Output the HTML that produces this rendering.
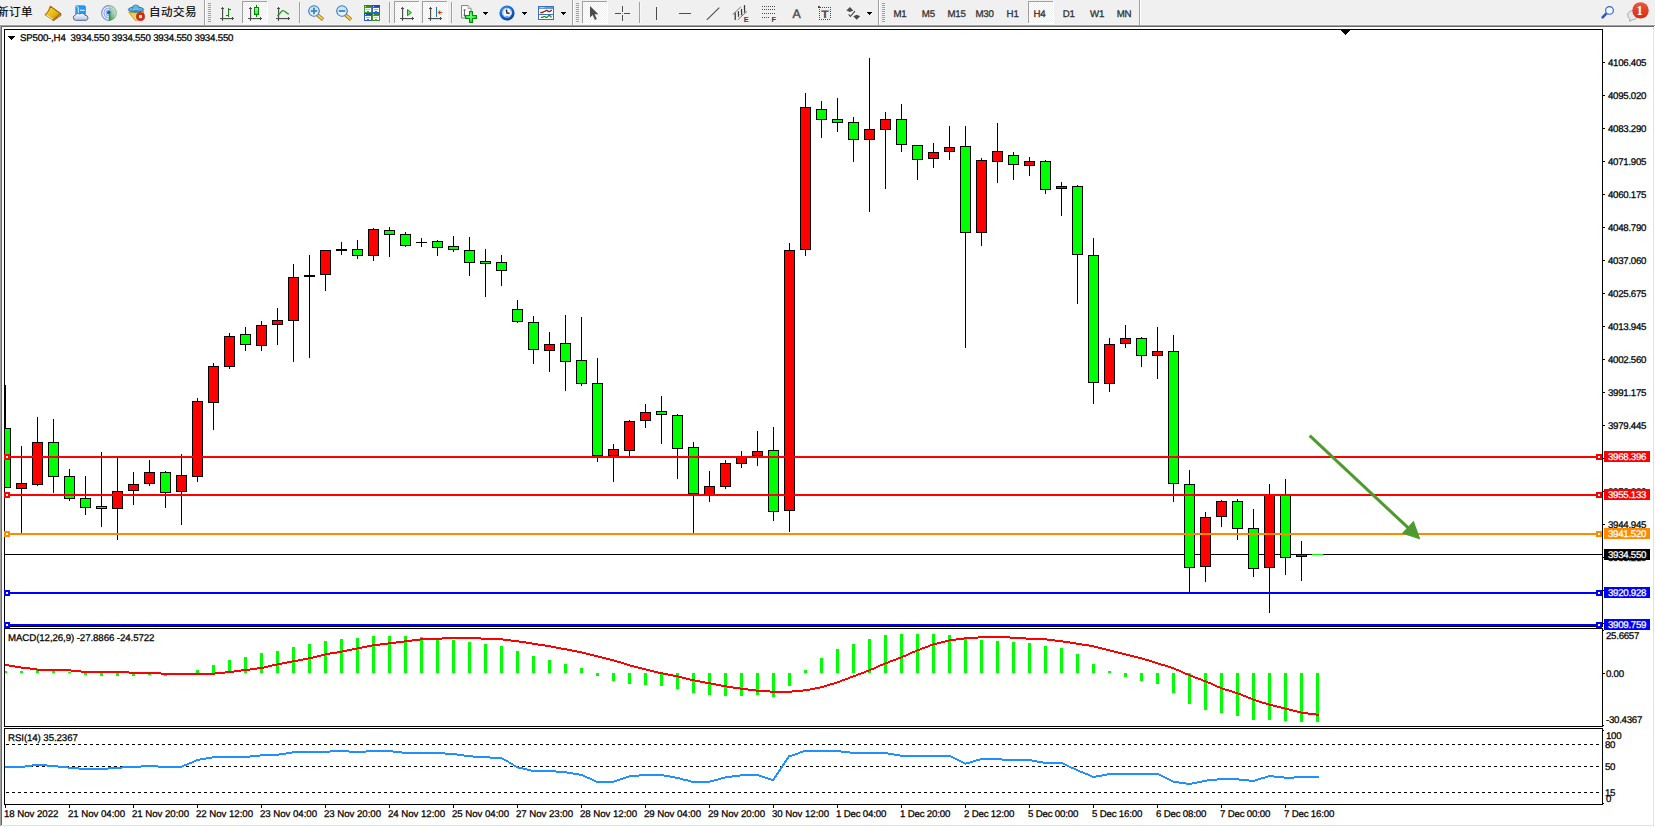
<!DOCTYPE html>
<html><head><meta charset="utf-8"><title>SP500-,H4</title>
<style>
html,body{margin:0;padding:0;background:#fff;}
body{width:1655px;height:827px;overflow:hidden;position:relative;font-family:"Liberation Sans","Noto Sans CJK SC",sans-serif;}
#tb{position:absolute;left:0;top:0;width:1655px;height:25px;background:#f0f0f0;}
#win{position:absolute;left:0;top:25px;width:1655px;height:802px;background:#fff;}
svg{position:absolute;left:0;top:0;}
.t{position:absolute;white-space:pre;font-size:9.7px;line-height:11px;height:11px;color:#000;-webkit-text-stroke:0.25px #000;letter-spacing:-0.12px;text-rendering:geometricPrecision;}
.p{letter-spacing:-0.28px;}
.h{letter-spacing:-0.2px;}
.m{letter-spacing:-0.09px;}
.d{letter-spacing:-0.05px;}
.d2{letter-spacing:-0.19px;}
.pl{left:1608px;}
.pb{position:absolute;left:1604px;width:46px;height:11px;color:#fff;font-size:9.7px;line-height:13px;overflow:hidden;white-space:pre;text-indent:4px;letter-spacing:-0.28px;-webkit-text-stroke:0.25px #fff;text-rendering:geometricPrecision;}
.cn{position:absolute;font-size:11.5px;line-height:14px;color:#000;white-space:pre;letter-spacing:0.5px;-webkit-text-stroke:0.15px #000;}
.tf{position:absolute;top:9px;font-size:9.7px;line-height:11px;color:#333;white-space:pre;-webkit-text-stroke:0.3px #333;letter-spacing:-0.2px;text-rendering:geometricPrecision;}
.ic{position:absolute;font-size:7.4px;line-height:7px;font-weight:bold;color:#3c3c3c;}
.ia{position:absolute;font-size:12.3px;line-height:13px;color:#4d4d4d;-webkit-text-stroke:0.45px #4d4d4d;text-rendering:geometricPrecision;}
.it{position:absolute;font-size:11px;line-height:12px;font-weight:bold;color:#4d4d4d;transform:scaleX(1.18);transform-origin:0 0;text-rendering:geometricPrecision;}
.bd{position:absolute;font-family:"Liberation Serif",serif;font-weight:bold;font-size:13.5px;line-height:14px;color:#fff;text-rendering:geometricPrecision;}
</style></head><body>

<div id="tb"></div><div id="win"></div>
<svg id="chart" width="1655" height="827" viewBox="0 0 1655 827" shape-rendering="crispEdges">
<rect x="0" y="24" width="1655" height="1" fill="#f6f6f6"/>
<rect x="0" y="25" width="1655" height="1" fill="#a0a0a0"/><rect x="0" y="25" width="1" height="801" fill="#a0a0a0"/>
<rect x="1" y="26" width="1654" height="1" fill="#696969"/><rect x="1" y="26" width="1" height="799" fill="#696969"/>
<rect x="1653" y="27" width="1" height="799" fill="#e3e3e3"/><rect x="1" y="825" width="1653" height="1" fill="#e3e3e3"/>
<rect x="1654" y="26" width="1" height="801" fill="#fff"/><rect x="0" y="826" width="1655" height="1" fill="#fff"/>
<path d="M4.5 29.5H1602.5V626.5H4.5Z" fill="none" stroke="#000" stroke-width="1"/>
<path d="M4.5 628.5H1602.5V726.5H4.5Z" fill="none" stroke="#000" stroke-width="1"/>
<path d="M4.5 728.5H1602.5V804.5H4.5Z" fill="none" stroke="#000" stroke-width="1"/>
<rect x="1341" y="30" width="9" height="1" fill="#000"/>
<rect x="1342" y="31" width="7" height="1" fill="#000"/>
<rect x="1343" y="32" width="5" height="1" fill="#000"/>
<rect x="1344" y="33" width="3" height="1" fill="#000"/>
<rect x="1345" y="34" width="1" height="1" fill="#000"/>
<rect x="8" y="36" width="7" height="1" fill="#000"/>
<rect x="9" y="37" width="5" height="1" fill="#000"/>
<rect x="10" y="38" width="3" height="1" fill="#000"/>
<rect x="11" y="39" width="1" height="1" fill="#000"/>
<rect x="1603" y="62" width="2" height="1" fill="#000"/>
<rect x="1603" y="95" width="2" height="1" fill="#000"/>
<rect x="1603" y="128" width="2" height="1" fill="#000"/>
<rect x="1603" y="161" width="2" height="1" fill="#000"/>
<rect x="1603" y="194" width="2" height="1" fill="#000"/>
<rect x="1603" y="227" width="2" height="1" fill="#000"/>
<rect x="1603" y="260" width="2" height="1" fill="#000"/>
<rect x="1603" y="293" width="2" height="1" fill="#000"/>
<rect x="1603" y="326" width="2" height="1" fill="#000"/>
<rect x="1603" y="359" width="2" height="1" fill="#000"/>
<rect x="1603" y="392" width="2" height="1" fill="#000"/>
<rect x="1603" y="425" width="2" height="1" fill="#000"/>
<rect x="1603" y="458" width="2" height="1" fill="#000"/>
<rect x="1603" y="491" width="2" height="1" fill="#000"/>
<rect x="1603" y="524" width="2" height="1" fill="#000"/>
<rect x="1603" y="557" width="2" height="1" fill="#000"/>
<rect x="1603" y="590" width="2" height="1" fill="#000"/>
<rect x="1603" y="623" width="2" height="1" fill="#000"/>
<rect x="1603" y="673" width="2" height="1" fill="#000"/>
<rect x="1603" y="630" width="1" height="1" fill="#000"/>
<rect x="1603" y="725" width="1" height="1" fill="#000"/>
<rect x="1603" y="730" width="1" height="1" fill="#000"/>
<rect x="1603" y="803" width="1" height="1" fill="#000"/>
<rect x="5" y="805" width="1" height="3" fill="#000"/>
<rect x="69" y="805" width="1" height="3" fill="#000"/>
<rect x="133" y="805" width="1" height="3" fill="#000"/>
<rect x="197" y="805" width="1" height="3" fill="#000"/>
<rect x="261" y="805" width="1" height="3" fill="#000"/>
<rect x="325" y="805" width="1" height="3" fill="#000"/>
<rect x="389" y="805" width="1" height="3" fill="#000"/>
<rect x="453" y="805" width="1" height="3" fill="#000"/>
<rect x="517" y="805" width="1" height="3" fill="#000"/>
<rect x="581" y="805" width="1" height="3" fill="#000"/>
<rect x="645" y="805" width="1" height="3" fill="#000"/>
<rect x="709" y="805" width="1" height="3" fill="#000"/>
<rect x="773" y="805" width="1" height="3" fill="#000"/>
<rect x="837" y="805" width="1" height="3" fill="#000"/>
<rect x="901" y="805" width="1" height="3" fill="#000"/>
<rect x="965" y="805" width="1" height="3" fill="#000"/>
<rect x="1029" y="805" width="1" height="3" fill="#000"/>
<rect x="1093" y="805" width="1" height="3" fill="#000"/>
<rect x="1157" y="805" width="1" height="3" fill="#000"/>
<rect x="1221" y="805" width="1" height="3" fill="#000"/>
<rect x="1285" y="805" width="1" height="3" fill="#000"/>
<rect x="5" y="554" width="1597" height="1" fill="#000"/>
<rect x="5" y="385" width="1" height="103" fill="#000"/>
<rect x="5" y="428" width="6" height="60" fill="#000"/>
<rect x="5" y="429" width="5" height="58" fill="#00ff00"/>
<rect x="21" y="446" width="1" height="87" fill="#000"/>
<rect x="16" y="483" width="11" height="6" fill="#000"/>
<rect x="17" y="484" width="9" height="4" fill="#ff0000"/>
<rect x="37" y="417" width="1" height="69" fill="#000"/>
<rect x="32" y="442" width="11" height="43" fill="#000"/>
<rect x="33" y="443" width="9" height="41" fill="#ff0000"/>
<rect x="53" y="419" width="1" height="74" fill="#000"/>
<rect x="48" y="442" width="11" height="35" fill="#000"/>
<rect x="49" y="443" width="9" height="33" fill="#00ff00"/>
<rect x="69" y="469" width="1" height="32" fill="#000"/>
<rect x="64" y="476" width="11" height="23" fill="#000"/>
<rect x="65" y="477" width="9" height="21" fill="#00ff00"/>
<rect x="85" y="476" width="1" height="39" fill="#000"/>
<rect x="80" y="498" width="11" height="10" fill="#000"/>
<rect x="81" y="499" width="9" height="8" fill="#00ff00"/>
<rect x="101" y="452" width="1" height="75" fill="#000"/>
<rect x="96" y="506" width="11" height="3" fill="#000"/>
<rect x="97" y="507" width="9" height="1" fill="#00ff00"/>
<rect x="117" y="457" width="1" height="83" fill="#000"/>
<rect x="112" y="491" width="11" height="18" fill="#000"/>
<rect x="113" y="492" width="9" height="16" fill="#ff0000"/>
<rect x="133" y="472" width="1" height="33" fill="#000"/>
<rect x="128" y="484" width="11" height="7" fill="#000"/>
<rect x="129" y="485" width="9" height="5" fill="#ff0000"/>
<rect x="149" y="460" width="1" height="26" fill="#000"/>
<rect x="144" y="472" width="11" height="12" fill="#000"/>
<rect x="145" y="473" width="9" height="10" fill="#ff0000"/>
<rect x="165" y="471" width="1" height="37" fill="#000"/>
<rect x="160" y="472" width="11" height="21" fill="#000"/>
<rect x="161" y="473" width="9" height="19" fill="#00ff00"/>
<rect x="181" y="454" width="1" height="71" fill="#000"/>
<rect x="176" y="475" width="11" height="17" fill="#000"/>
<rect x="177" y="476" width="9" height="15" fill="#ff0000"/>
<rect x="197" y="398" width="1" height="84" fill="#000"/>
<rect x="192" y="401" width="11" height="76" fill="#000"/>
<rect x="193" y="402" width="9" height="74" fill="#ff0000"/>
<rect x="213" y="363" width="1" height="67" fill="#000"/>
<rect x="208" y="366" width="11" height="37" fill="#000"/>
<rect x="209" y="367" width="9" height="35" fill="#ff0000"/>
<rect x="229" y="333" width="1" height="36" fill="#000"/>
<rect x="224" y="336" width="11" height="31" fill="#000"/>
<rect x="225" y="337" width="9" height="29" fill="#ff0000"/>
<rect x="245" y="327" width="1" height="24" fill="#000"/>
<rect x="240" y="334" width="11" height="11" fill="#000"/>
<rect x="241" y="335" width="9" height="9" fill="#00ff00"/>
<rect x="261" y="321" width="1" height="30" fill="#000"/>
<rect x="256" y="325" width="11" height="21" fill="#000"/>
<rect x="257" y="326" width="9" height="19" fill="#ff0000"/>
<rect x="277" y="308" width="1" height="37" fill="#000"/>
<rect x="272" y="320" width="11" height="5" fill="#000"/>
<rect x="273" y="321" width="9" height="3" fill="#ff0000"/>
<rect x="293" y="264" width="1" height="98" fill="#000"/>
<rect x="288" y="277" width="11" height="44" fill="#000"/>
<rect x="289" y="278" width="9" height="42" fill="#ff0000"/>
<rect x="309" y="255" width="1" height="103" fill="#000"/>
<rect x="304" y="275" width="11" height="2" fill="#000"/>
<rect x="325" y="250" width="1" height="41" fill="#000"/>
<rect x="320" y="250" width="11" height="25" fill="#000"/>
<rect x="321" y="251" width="9" height="23" fill="#ff0000"/>
<rect x="341" y="242" width="1" height="13" fill="#000"/>
<rect x="336" y="249" width="11" height="2" fill="#000"/>
<rect x="357" y="240" width="1" height="19" fill="#000"/>
<rect x="352" y="249" width="11" height="7" fill="#000"/>
<rect x="353" y="250" width="9" height="5" fill="#00ff00"/>
<rect x="373" y="228" width="1" height="33" fill="#000"/>
<rect x="368" y="229" width="11" height="27" fill="#000"/>
<rect x="369" y="230" width="9" height="25" fill="#ff0000"/>
<rect x="389" y="227" width="1" height="30" fill="#000"/>
<rect x="384" y="230" width="11" height="5" fill="#000"/>
<rect x="385" y="231" width="9" height="3" fill="#00ff00"/>
<rect x="405" y="232" width="1" height="15" fill="#000"/>
<rect x="400" y="234" width="11" height="12" fill="#000"/>
<rect x="401" y="235" width="9" height="10" fill="#00ff00"/>
<rect x="421" y="238" width="1" height="9" fill="#000"/>
<rect x="416" y="242" width="11" height="1" fill="#000"/>
<rect x="437" y="240" width="1" height="16" fill="#000"/>
<rect x="432" y="241" width="11" height="7" fill="#000"/>
<rect x="433" y="242" width="9" height="5" fill="#00ff00"/>
<rect x="453" y="236" width="1" height="16" fill="#000"/>
<rect x="448" y="246" width="11" height="4" fill="#000"/>
<rect x="449" y="247" width="9" height="2" fill="#00ff00"/>
<rect x="469" y="237" width="1" height="39" fill="#000"/>
<rect x="464" y="250" width="11" height="13" fill="#000"/>
<rect x="465" y="251" width="9" height="11" fill="#00ff00"/>
<rect x="485" y="249" width="1" height="48" fill="#000"/>
<rect x="480" y="261" width="11" height="3" fill="#000"/>
<rect x="481" y="262" width="9" height="1" fill="#00ff00"/>
<rect x="501" y="255" width="1" height="31" fill="#000"/>
<rect x="496" y="262" width="11" height="9" fill="#000"/>
<rect x="497" y="263" width="9" height="7" fill="#00ff00"/>
<rect x="517" y="300" width="1" height="23" fill="#000"/>
<rect x="512" y="309" width="11" height="13" fill="#000"/>
<rect x="513" y="310" width="9" height="11" fill="#00ff00"/>
<rect x="533" y="316" width="1" height="48" fill="#000"/>
<rect x="528" y="322" width="11" height="28" fill="#000"/>
<rect x="529" y="323" width="9" height="26" fill="#00ff00"/>
<rect x="549" y="332" width="1" height="40" fill="#000"/>
<rect x="544" y="344" width="11" height="7" fill="#000"/>
<rect x="545" y="345" width="9" height="5" fill="#ff0000"/>
<rect x="565" y="315" width="1" height="76" fill="#000"/>
<rect x="560" y="343" width="11" height="19" fill="#000"/>
<rect x="561" y="344" width="9" height="17" fill="#00ff00"/>
<rect x="581" y="317" width="1" height="69" fill="#000"/>
<rect x="576" y="360" width="11" height="24" fill="#000"/>
<rect x="577" y="361" width="9" height="22" fill="#00ff00"/>
<rect x="597" y="358" width="1" height="104" fill="#000"/>
<rect x="592" y="383" width="11" height="73" fill="#000"/>
<rect x="593" y="384" width="9" height="71" fill="#00ff00"/>
<rect x="613" y="444" width="1" height="38" fill="#000"/>
<rect x="608" y="449" width="11" height="7" fill="#000"/>
<rect x="609" y="450" width="9" height="5" fill="#ff0000"/>
<rect x="629" y="420" width="1" height="36" fill="#000"/>
<rect x="624" y="421" width="11" height="30" fill="#000"/>
<rect x="625" y="422" width="9" height="28" fill="#ff0000"/>
<rect x="645" y="404" width="1" height="24" fill="#000"/>
<rect x="640" y="412" width="11" height="9" fill="#000"/>
<rect x="641" y="413" width="9" height="7" fill="#ff0000"/>
<rect x="661" y="396" width="1" height="48" fill="#000"/>
<rect x="656" y="411" width="11" height="4" fill="#000"/>
<rect x="657" y="412" width="9" height="2" fill="#00ff00"/>
<rect x="677" y="414" width="1" height="65" fill="#000"/>
<rect x="672" y="415" width="11" height="34" fill="#000"/>
<rect x="673" y="416" width="9" height="32" fill="#00ff00"/>
<rect x="693" y="442" width="1" height="91" fill="#000"/>
<rect x="688" y="447" width="11" height="47" fill="#000"/>
<rect x="689" y="448" width="9" height="45" fill="#00ff00"/>
<rect x="709" y="471" width="1" height="31" fill="#000"/>
<rect x="704" y="486" width="11" height="9" fill="#000"/>
<rect x="705" y="487" width="9" height="7" fill="#ff0000"/>
<rect x="725" y="460" width="1" height="29" fill="#000"/>
<rect x="720" y="463" width="11" height="24" fill="#000"/>
<rect x="721" y="464" width="9" height="22" fill="#ff0000"/>
<rect x="741" y="451" width="1" height="17" fill="#000"/>
<rect x="736" y="456" width="11" height="8" fill="#000"/>
<rect x="737" y="457" width="9" height="6" fill="#ff0000"/>
<rect x="757" y="431" width="1" height="35" fill="#000"/>
<rect x="752" y="451" width="11" height="5" fill="#000"/>
<rect x="753" y="452" width="9" height="3" fill="#ff0000"/>
<rect x="773" y="427" width="1" height="94" fill="#000"/>
<rect x="768" y="450" width="11" height="62" fill="#000"/>
<rect x="769" y="451" width="9" height="60" fill="#00ff00"/>
<rect x="789" y="243" width="1" height="289" fill="#000"/>
<rect x="784" y="250" width="11" height="261" fill="#000"/>
<rect x="785" y="251" width="9" height="259" fill="#ff0000"/>
<rect x="805" y="93" width="1" height="163" fill="#000"/>
<rect x="800" y="107" width="11" height="143" fill="#000"/>
<rect x="801" y="108" width="9" height="141" fill="#ff0000"/>
<rect x="821" y="101" width="1" height="37" fill="#000"/>
<rect x="816" y="109" width="11" height="11" fill="#000"/>
<rect x="817" y="110" width="9" height="9" fill="#00ff00"/>
<rect x="837" y="98" width="1" height="34" fill="#000"/>
<rect x="832" y="119" width="11" height="4" fill="#000"/>
<rect x="833" y="120" width="9" height="2" fill="#00ff00"/>
<rect x="853" y="117" width="1" height="45" fill="#000"/>
<rect x="848" y="122" width="11" height="18" fill="#000"/>
<rect x="849" y="123" width="9" height="16" fill="#00ff00"/>
<rect x="869" y="58" width="1" height="154" fill="#000"/>
<rect x="864" y="129" width="11" height="11" fill="#000"/>
<rect x="865" y="130" width="9" height="9" fill="#ff0000"/>
<rect x="885" y="112" width="1" height="77" fill="#000"/>
<rect x="880" y="119" width="11" height="11" fill="#000"/>
<rect x="881" y="120" width="9" height="9" fill="#ff0000"/>
<rect x="901" y="104" width="1" height="48" fill="#000"/>
<rect x="896" y="119" width="11" height="26" fill="#000"/>
<rect x="897" y="120" width="9" height="24" fill="#00ff00"/>
<rect x="917" y="145" width="1" height="35" fill="#000"/>
<rect x="912" y="145" width="11" height="15" fill="#000"/>
<rect x="913" y="146" width="9" height="13" fill="#00ff00"/>
<rect x="933" y="143" width="1" height="25" fill="#000"/>
<rect x="928" y="152" width="11" height="7" fill="#000"/>
<rect x="929" y="153" width="9" height="5" fill="#ff0000"/>
<rect x="949" y="126" width="1" height="34" fill="#000"/>
<rect x="944" y="147" width="11" height="5" fill="#000"/>
<rect x="945" y="148" width="9" height="3" fill="#ff0000"/>
<rect x="965" y="126" width="1" height="222" fill="#000"/>
<rect x="960" y="146" width="11" height="87" fill="#000"/>
<rect x="961" y="147" width="9" height="85" fill="#00ff00"/>
<rect x="981" y="158" width="1" height="88" fill="#000"/>
<rect x="976" y="160" width="11" height="73" fill="#000"/>
<rect x="977" y="161" width="9" height="71" fill="#ff0000"/>
<rect x="997" y="123" width="1" height="60" fill="#000"/>
<rect x="992" y="151" width="11" height="11" fill="#000"/>
<rect x="993" y="152" width="9" height="9" fill="#ff0000"/>
<rect x="1013" y="152" width="1" height="28" fill="#000"/>
<rect x="1008" y="155" width="11" height="10" fill="#000"/>
<rect x="1009" y="156" width="9" height="8" fill="#00ff00"/>
<rect x="1029" y="157" width="1" height="19" fill="#000"/>
<rect x="1024" y="161" width="11" height="5" fill="#000"/>
<rect x="1025" y="162" width="9" height="3" fill="#ff0000"/>
<rect x="1045" y="160" width="1" height="34" fill="#000"/>
<rect x="1040" y="161" width="11" height="29" fill="#000"/>
<rect x="1041" y="162" width="9" height="27" fill="#00ff00"/>
<rect x="1061" y="182" width="1" height="34" fill="#000"/>
<rect x="1056" y="186" width="11" height="3" fill="#000"/>
<rect x="1057" y="187" width="9" height="1" fill="#ff0000"/>
<rect x="1077" y="185" width="1" height="119" fill="#000"/>
<rect x="1072" y="186" width="11" height="69" fill="#000"/>
<rect x="1073" y="187" width="9" height="67" fill="#00ff00"/>
<rect x="1093" y="238" width="1" height="166" fill="#000"/>
<rect x="1088" y="255" width="11" height="128" fill="#000"/>
<rect x="1089" y="256" width="9" height="126" fill="#00ff00"/>
<rect x="1109" y="338" width="1" height="54" fill="#000"/>
<rect x="1104" y="344" width="11" height="40" fill="#000"/>
<rect x="1105" y="345" width="9" height="38" fill="#ff0000"/>
<rect x="1125" y="325" width="1" height="23" fill="#000"/>
<rect x="1120" y="338" width="11" height="6" fill="#000"/>
<rect x="1121" y="339" width="9" height="4" fill="#ff0000"/>
<rect x="1141" y="337" width="1" height="30" fill="#000"/>
<rect x="1136" y="338" width="11" height="18" fill="#000"/>
<rect x="1137" y="339" width="9" height="16" fill="#00ff00"/>
<rect x="1157" y="327" width="1" height="52" fill="#000"/>
<rect x="1152" y="351" width="11" height="5" fill="#000"/>
<rect x="1153" y="352" width="9" height="3" fill="#ff0000"/>
<rect x="1173" y="335" width="1" height="167" fill="#000"/>
<rect x="1168" y="351" width="11" height="133" fill="#000"/>
<rect x="1169" y="352" width="9" height="131" fill="#00ff00"/>
<rect x="1189" y="470" width="1" height="122" fill="#000"/>
<rect x="1184" y="484" width="11" height="84" fill="#000"/>
<rect x="1185" y="485" width="9" height="82" fill="#00ff00"/>
<rect x="1205" y="512" width="1" height="70" fill="#000"/>
<rect x="1200" y="517" width="11" height="50" fill="#000"/>
<rect x="1201" y="518" width="9" height="48" fill="#ff0000"/>
<rect x="1221" y="500" width="1" height="27" fill="#000"/>
<rect x="1216" y="501" width="11" height="16" fill="#000"/>
<rect x="1217" y="502" width="9" height="14" fill="#ff0000"/>
<rect x="1237" y="499" width="1" height="41" fill="#000"/>
<rect x="1232" y="501" width="11" height="28" fill="#000"/>
<rect x="1233" y="502" width="9" height="26" fill="#00ff00"/>
<rect x="1253" y="509" width="1" height="68" fill="#000"/>
<rect x="1248" y="528" width="11" height="41" fill="#000"/>
<rect x="1249" y="529" width="9" height="39" fill="#00ff00"/>
<rect x="1269" y="484" width="1" height="129" fill="#000"/>
<rect x="1264" y="494" width="11" height="74" fill="#000"/>
<rect x="1265" y="495" width="9" height="72" fill="#ff0000"/>
<rect x="1285" y="479" width="1" height="96" fill="#000"/>
<rect x="1280" y="494" width="11" height="64" fill="#000"/>
<rect x="1281" y="495" width="9" height="62" fill="#00ff00"/>
<rect x="1301" y="541" width="1" height="40" fill="#000"/>
<rect x="1296" y="554" width="11" height="3" fill="#000"/>
<rect x="1297" y="555" width="9" height="1" fill="#ff0000"/>
<rect x="1312" y="554" width="11" height="1" fill="#00ff00"/>
<rect x="5" y="456" width="1597" height="2" fill="#ff0000"/><rect x="4" y="454" width="6" height="6" fill="#ff0000"/><rect x="6" y="456" width="2" height="2" fill="#fff"/><rect x="1596" y="454" width="6" height="6" fill="#ff0000"/><rect x="1598" y="456" width="2" height="2" fill="#fff"/>
<rect x="5" y="494" width="1597" height="2" fill="#ff0000"/><rect x="4" y="492" width="6" height="6" fill="#ff0000"/><rect x="6" y="494" width="2" height="2" fill="#fff"/><rect x="1596" y="492" width="6" height="6" fill="#ff0000"/><rect x="1598" y="494" width="2" height="2" fill="#fff"/>
<rect x="5" y="533" width="1597" height="2" fill="#ff8a00"/><rect x="4" y="531" width="6" height="6" fill="#ff8a00"/><rect x="6" y="533" width="2" height="2" fill="#fff"/><rect x="1596" y="531" width="6" height="6" fill="#ff8a00"/><rect x="1598" y="533" width="2" height="2" fill="#fff"/>
<rect x="5" y="592" width="1597" height="2" fill="#0000ff"/><rect x="4" y="590" width="6" height="6" fill="#0000ff"/><rect x="6" y="592" width="2" height="2" fill="#fff"/><rect x="1596" y="590" width="6" height="6" fill="#0000ff"/><rect x="1598" y="592" width="2" height="2" fill="#fff"/>
<rect x="5" y="624" width="1597" height="2" fill="#0000ff"/><rect x="4" y="622" width="6" height="6" fill="#0000ff"/><rect x="6" y="624" width="2" height="2" fill="#fff"/><rect x="1596" y="622" width="6" height="6" fill="#0000ff"/><rect x="1598" y="624" width="2" height="2" fill="#fff"/>
<rect x="5" y="671" width="2" height="2" fill="#00ff00"/>
<rect x="20" y="671" width="3" height="2" fill="#00ff00"/>
<rect x="36" y="670" width="3" height="3" fill="#00ff00"/>
<rect x="52" y="671" width="3" height="2" fill="#00ff00"/>
<rect x="68" y="672" width="3" height="1" fill="#00ff00"/>
<rect x="84" y="673" width="3" height="2" fill="#00ff00"/>
<rect x="100" y="673" width="3" height="3" fill="#00ff00"/>
<rect x="116" y="673" width="3" height="3" fill="#00ff00"/>
<rect x="132" y="673" width="3" height="3" fill="#00ff00"/>
<rect x="148" y="673" width="3" height="2" fill="#00ff00"/>
<rect x="164" y="673" width="3" height="3" fill="#00ff00"/>
<rect x="180" y="673" width="3" height="1" fill="#00ff00"/>
<rect x="196" y="670" width="3" height="3" fill="#00ff00"/>
<rect x="212" y="665" width="3" height="8" fill="#00ff00"/>
<rect x="228" y="660" width="3" height="13" fill="#00ff00"/>
<rect x="244" y="657" width="3" height="16" fill="#00ff00"/>
<rect x="260" y="653" width="3" height="20" fill="#00ff00"/>
<rect x="276" y="651" width="3" height="22" fill="#00ff00"/>
<rect x="292" y="647" width="3" height="26" fill="#00ff00"/>
<rect x="308" y="644" width="3" height="29" fill="#00ff00"/>
<rect x="324" y="641" width="3" height="32" fill="#00ff00"/>
<rect x="340" y="639" width="3" height="34" fill="#00ff00"/>
<rect x="356" y="638" width="3" height="35" fill="#00ff00"/>
<rect x="372" y="636" width="3" height="37" fill="#00ff00"/>
<rect x="388" y="636" width="3" height="37" fill="#00ff00"/>
<rect x="404" y="636" width="3" height="37" fill="#00ff00"/>
<rect x="420" y="637" width="3" height="36" fill="#00ff00"/>
<rect x="436" y="638" width="3" height="35" fill="#00ff00"/>
<rect x="452" y="640" width="3" height="33" fill="#00ff00"/>
<rect x="468" y="642" width="3" height="31" fill="#00ff00"/>
<rect x="484" y="644" width="3" height="29" fill="#00ff00"/>
<rect x="500" y="646" width="3" height="27" fill="#00ff00"/>
<rect x="516" y="651" width="3" height="22" fill="#00ff00"/>
<rect x="532" y="656" width="3" height="17" fill="#00ff00"/>
<rect x="548" y="660" width="3" height="13" fill="#00ff00"/>
<rect x="564" y="664" width="3" height="9" fill="#00ff00"/>
<rect x="580" y="668" width="3" height="5" fill="#00ff00"/>
<rect x="596" y="673" width="3" height="3" fill="#00ff00"/>
<rect x="612" y="673" width="3" height="8" fill="#00ff00"/>
<rect x="628" y="673" width="3" height="11" fill="#00ff00"/>
<rect x="644" y="673" width="3" height="12" fill="#00ff00"/>
<rect x="660" y="673" width="3" height="13" fill="#00ff00"/>
<rect x="676" y="673" width="3" height="16" fill="#00ff00"/>
<rect x="692" y="673" width="3" height="20" fill="#00ff00"/>
<rect x="708" y="673" width="3" height="22" fill="#00ff00"/>
<rect x="724" y="673" width="3" height="23" fill="#00ff00"/>
<rect x="740" y="673" width="3" height="23" fill="#00ff00"/>
<rect x="756" y="673" width="3" height="22" fill="#00ff00"/>
<rect x="772" y="673" width="3" height="24" fill="#00ff00"/>
<rect x="788" y="673" width="3" height="13" fill="#00ff00"/>
<rect x="804" y="670" width="3" height="3" fill="#00ff00"/>
<rect x="820" y="658" width="3" height="15" fill="#00ff00"/>
<rect x="836" y="649" width="3" height="24" fill="#00ff00"/>
<rect x="852" y="644" width="3" height="29" fill="#00ff00"/>
<rect x="868" y="639" width="3" height="34" fill="#00ff00"/>
<rect x="884" y="635" width="3" height="38" fill="#00ff00"/>
<rect x="900" y="634" width="3" height="39" fill="#00ff00"/>
<rect x="916" y="634" width="3" height="39" fill="#00ff00"/>
<rect x="932" y="634" width="3" height="39" fill="#00ff00"/>
<rect x="948" y="635" width="3" height="38" fill="#00ff00"/>
<rect x="964" y="637" width="3" height="36" fill="#00ff00"/>
<rect x="980" y="640" width="3" height="33" fill="#00ff00"/>
<rect x="996" y="641" width="3" height="32" fill="#00ff00"/>
<rect x="1012" y="642" width="3" height="31" fill="#00ff00"/>
<rect x="1028" y="643" width="3" height="30" fill="#00ff00"/>
<rect x="1044" y="646" width="3" height="27" fill="#00ff00"/>
<rect x="1060" y="648" width="3" height="25" fill="#00ff00"/>
<rect x="1076" y="654" width="3" height="19" fill="#00ff00"/>
<rect x="1092" y="664" width="3" height="9" fill="#00ff00"/>
<rect x="1108" y="671" width="3" height="2" fill="#00ff00"/>
<rect x="1124" y="673" width="3" height="4" fill="#00ff00"/>
<rect x="1140" y="673" width="3" height="8" fill="#00ff00"/>
<rect x="1156" y="673" width="3" height="11" fill="#00ff00"/>
<rect x="1172" y="673" width="3" height="20" fill="#00ff00"/>
<rect x="1188" y="673" width="3" height="31" fill="#00ff00"/>
<rect x="1204" y="673" width="3" height="37" fill="#00ff00"/>
<rect x="1220" y="673" width="3" height="40" fill="#00ff00"/>
<rect x="1236" y="673" width="3" height="43" fill="#00ff00"/>
<rect x="1252" y="673" width="3" height="47" fill="#00ff00"/>
<rect x="1268" y="673" width="3" height="47" fill="#00ff00"/>
<rect x="1284" y="673" width="3" height="48" fill="#00ff00"/>
<rect x="1300" y="673" width="3" height="49" fill="#00ff00"/>
<rect x="1316" y="673" width="3" height="49" fill="#00ff00"/>
<path d="M5 664h4v2h-4zM9 665h6v2h-6zM15 666h6v2h-6zM21 667h9v2h-9zM30 668h7v2h-7zM37 669h34v2h-34zM71 670h10v2h-10zM81 671h48v2h-48zM129 672h32v2h-32zM161 673h54v2h-54zM215 672h10v2h-10zM225 671h9v2h-9zM234 670h7v2h-7zM241 669h9v2h-9zM250 668h7v2h-7zM257 667h7v2h-7zM264 666h4v2h-4zM268 665h4v2h-4zM272 664h5v2h-5zM277 663h5v2h-5zM282 662h5v2h-5zM287 661h5v2h-5zM292 660h6v2h-6zM298 659h5v2h-5zM303 658h5v2h-5zM308 657h5v2h-5zM313 656h4v2h-4zM317 655h4v2h-4zM321 654h4v2h-4zM325 653h5v2h-5zM330 652h7v2h-7zM337 651h5v2h-5zM342 650h5v2h-5zM347 649h5v2h-5zM352 648h5v2h-5zM357 647h5v2h-5zM362 646h5v2h-5zM367 645h5v2h-5zM372 644h8v2h-8zM380 643h8v2h-8zM388 642h8v2h-8zM396 641h8v2h-8zM404 640h8v2h-8zM412 639h8v2h-8zM420 638h22v2h-22zM442 637h39v2h-39zM481 638h22v2h-22zM503 639h8v2h-8zM511 640h8v2h-8zM519 641h7v2h-7zM526 642h6v2h-6zM532 643h6v2h-6zM538 644h7v2h-7zM545 645h6v2h-6zM551 646h5v2h-5zM556 647h5v2h-5zM561 648h6v2h-6zM567 649h5v2h-5zM572 650h5v2h-5zM577 651h5v2h-5zM582 652h4v2h-4zM586 653h4v2h-4zM590 654h4v2h-4zM594 655h4v2h-4zM598 656h4v2h-4zM602 657h4v2h-4zM606 658h4v2h-4zM610 659h4v2h-4zM614 660h3v2h-3zM617 661h4v2h-4zM621 662h3v2h-3zM624 663h3v2h-3zM627 664h3v2h-3zM630 665h4v2h-4zM634 666h4v2h-4zM638 667h4v2h-4zM642 668h4v2h-4zM646 669h4v2h-4zM650 670h4v2h-4zM654 671h4v2h-4zM658 672h5v2h-5zM663 673h5v2h-5zM668 674h5v2h-5zM673 675h5v2h-5zM678 676h4v2h-4zM682 677h4v2h-4zM686 678h4v2h-4zM690 679h5v2h-5zM695 680h5v2h-5zM700 681h5v2h-5zM705 682h6v2h-6zM711 683h5v2h-5zM716 684h5v2h-5zM721 685h6v2h-6zM727 686h6v2h-6zM733 687h7v2h-7zM740 688h8v2h-8zM748 689h8v2h-8zM756 690h14v2h-14zM770 691h22v2h-22zM792 690h11v2h-11zM803 689h7v2h-7zM810 688h5v2h-5zM815 687h5v2h-5zM820 686h4v2h-4zM824 685h3v2h-3zM827 684h3v2h-3zM830 683h4v2h-4zM834 682h3v2h-3zM837 681h3v2h-3zM840 680h2v2h-2zM842 679h3v2h-3zM845 678h3v2h-3zM848 677h2v2h-2zM850 676h3v2h-3zM853 675h3v2h-3zM856 674h2v2h-2zM858 673h3v2h-3zM861 672h3v2h-3zM864 671h2v2h-2zM866 670h3v2h-3zM869 669h2v2h-2zM871 668h3v2h-3zM874 667h2v2h-2zM876 666h2v2h-2zM878 665h2v2h-2zM880 664h3v2h-3zM883 663h2v2h-2zM885 662h3v2h-3zM888 661h2v2h-2zM890 660h3v2h-3zM893 659h3v2h-3zM896 658h2v2h-2zM898 657h3v2h-3zM901 656h2v2h-2zM903 655h3v2h-3zM906 654h2v2h-2zM908 653h2v2h-2zM910 652h2v2h-2zM912 651h3v2h-3zM915 650h2v2h-2zM917 649h3v2h-3zM920 648h2v2h-2zM922 647h3v2h-3zM925 646h3v2h-3zM928 645h2v2h-2zM930 644h3v2h-3zM933 643h4v2h-4zM937 642h4v2h-4zM941 641h4v2h-4zM945 640h4v2h-4zM949 639h7v2h-7zM956 638h8v2h-8zM964 637h14v2h-14zM978 636h32v2h-32zM1010 637h16v2h-16zM1026 638h21v2h-21zM1047 639h8v2h-8zM1055 640h8v2h-8zM1063 641h7v2h-7zM1070 642h6v2h-6zM1076 643h6v2h-6zM1082 644h7v2h-7zM1089 645h5v2h-5zM1094 646h4v2h-4zM1098 647h4v2h-4zM1102 648h4v2h-4zM1106 649h4v2h-4zM1110 650h4v2h-4zM1114 651h4v2h-4zM1118 652h4v2h-4zM1122 653h4v2h-4zM1126 654h4v2h-4zM1130 655h4v2h-4zM1134 656h4v2h-4zM1138 657h4v2h-4zM1142 658h3v2h-3zM1145 659h4v2h-4zM1149 660h3v2h-3zM1152 661h3v2h-3zM1155 662h3v2h-3zM1158 663h3v2h-3zM1161 664h4v2h-4zM1165 665h3v2h-3zM1168 666h3v2h-3zM1171 667h3v2h-3zM1174 668h2v2h-2zM1176 669h3v2h-3zM1179 670h2v2h-2zM1181 671h2v2h-2zM1183 672h2v2h-2zM1185 673h3v2h-3zM1188 674h2v2h-2zM1190 675h3v2h-3zM1193 676h2v2h-2zM1195 677h3v2h-3zM1198 678h3v2h-3zM1201 679h2v2h-2zM1203 680h3v2h-3zM1206 681h2v2h-2zM1208 682h3v2h-3zM1211 683h2v2h-2zM1213 684h2v2h-2zM1215 685h2v2h-2zM1217 686h3v2h-3zM1220 687h2v2h-2zM1222 688h3v2h-3zM1225 689h4v2h-4zM1229 690h3v2h-3zM1232 691h3v2h-3zM1235 692h3v2h-3zM1238 693h3v2h-3zM1241 694h2v2h-2zM1243 695h3v2h-3zM1246 696h2v2h-2zM1248 697h3v2h-3zM1251 698h2v2h-2zM1253 699h3v2h-3zM1256 700h3v2h-3zM1259 701h3v2h-3zM1262 702h4v2h-4zM1266 703h3v2h-3zM1269 704h4v2h-4zM1273 705h4v2h-4zM1277 706h4v2h-4zM1281 707h4v2h-4zM1285 708h4v2h-4zM1289 709h4v2h-4zM1293 710h4v2h-4zM1297 711h4v2h-4zM1301 712h7v2h-7zM1308 713h8v2h-8zM1316 714h3v2h-3z" fill="#ff0000"/>
<path d="M6 744.5h3M12 744.5h3M18 744.5h3M24 744.5h3M30 744.5h3M36 744.5h3M42 744.5h3M48 744.5h3M54 744.5h3M60 744.5h3M66 744.5h3M72 744.5h3M78 744.5h3M84 744.5h3M90 744.5h3M96 744.5h3M102 744.5h3M108 744.5h3M114 744.5h3M120 744.5h3M126 744.5h3M132 744.5h3M138 744.5h3M144 744.5h3M150 744.5h3M156 744.5h3M162 744.5h3M168 744.5h3M174 744.5h3M180 744.5h3M186 744.5h3M192 744.5h3M198 744.5h3M204 744.5h3M210 744.5h3M216 744.5h3M222 744.5h3M228 744.5h3M234 744.5h3M240 744.5h3M246 744.5h3M252 744.5h3M258 744.5h3M264 744.5h3M270 744.5h3M276 744.5h3M282 744.5h3M288 744.5h3M294 744.5h3M300 744.5h3M306 744.5h3M312 744.5h3M318 744.5h3M324 744.5h3M330 744.5h3M336 744.5h3M342 744.5h3M348 744.5h3M354 744.5h3M360 744.5h3M366 744.5h3M372 744.5h3M378 744.5h3M384 744.5h3M390 744.5h3M396 744.5h3M402 744.5h3M408 744.5h3M414 744.5h3M420 744.5h3M426 744.5h3M432 744.5h3M438 744.5h3M444 744.5h3M450 744.5h3M456 744.5h3M462 744.5h3M468 744.5h3M474 744.5h3M480 744.5h3M486 744.5h3M492 744.5h3M498 744.5h3M504 744.5h3M510 744.5h3M516 744.5h3M522 744.5h3M528 744.5h3M534 744.5h3M540 744.5h3M546 744.5h3M552 744.5h3M558 744.5h3M564 744.5h3M570 744.5h3M576 744.5h3M582 744.5h3M588 744.5h3M594 744.5h3M600 744.5h3M606 744.5h3M612 744.5h3M618 744.5h3M624 744.5h3M630 744.5h3M636 744.5h3M642 744.5h3M648 744.5h3M654 744.5h3M660 744.5h3M666 744.5h3M672 744.5h3M678 744.5h3M684 744.5h3M690 744.5h3M696 744.5h3M702 744.5h3M708 744.5h3M714 744.5h3M720 744.5h3M726 744.5h3M732 744.5h3M738 744.5h3M744 744.5h3M750 744.5h3M756 744.5h3M762 744.5h3M768 744.5h3M774 744.5h3M780 744.5h3M786 744.5h3M792 744.5h3M798 744.5h3M804 744.5h3M810 744.5h3M816 744.5h3M822 744.5h3M828 744.5h3M834 744.5h3M840 744.5h3M846 744.5h3M852 744.5h3M858 744.5h3M864 744.5h3M870 744.5h3M876 744.5h3M882 744.5h3M888 744.5h3M894 744.5h3M900 744.5h3M906 744.5h3M912 744.5h3M918 744.5h3M924 744.5h3M930 744.5h3M936 744.5h3M942 744.5h3M948 744.5h3M954 744.5h3M960 744.5h3M966 744.5h3M972 744.5h3M978 744.5h3M984 744.5h3M990 744.5h3M996 744.5h3M1002 744.5h3M1008 744.5h3M1014 744.5h3M1020 744.5h3M1026 744.5h3M1032 744.5h3M1038 744.5h3M1044 744.5h3M1050 744.5h3M1056 744.5h3M1062 744.5h3M1068 744.5h3M1074 744.5h3M1080 744.5h3M1086 744.5h3M1092 744.5h3M1098 744.5h3M1104 744.5h3M1110 744.5h3M1116 744.5h3M1122 744.5h3M1128 744.5h3M1134 744.5h3M1140 744.5h3M1146 744.5h3M1152 744.5h3M1158 744.5h3M1164 744.5h3M1170 744.5h3M1176 744.5h3M1182 744.5h3M1188 744.5h3M1194 744.5h3M1200 744.5h3M1206 744.5h3M1212 744.5h3M1218 744.5h3M1224 744.5h3M1230 744.5h3M1236 744.5h3M1242 744.5h3M1248 744.5h3M1254 744.5h3M1260 744.5h3M1266 744.5h3M1272 744.5h3M1278 744.5h3M1284 744.5h3M1290 744.5h3M1296 744.5h3M1302 744.5h3M1308 744.5h3M1314 744.5h3M1320 744.5h3M1326 744.5h3M1332 744.5h3M1338 744.5h3M1344 744.5h3M1350 744.5h3M1356 744.5h3M1362 744.5h3M1368 744.5h3M1374 744.5h3M1380 744.5h3M1386 744.5h3M1392 744.5h3M1398 744.5h3M1404 744.5h3M1410 744.5h3M1416 744.5h3M1422 744.5h3M1428 744.5h3M1434 744.5h3M1440 744.5h3M1446 744.5h3M1452 744.5h3M1458 744.5h3M1464 744.5h3M1470 744.5h3M1476 744.5h3M1482 744.5h3M1488 744.5h3M1494 744.5h3M1500 744.5h3M1506 744.5h3M1512 744.5h3M1518 744.5h3M1524 744.5h3M1530 744.5h3M1536 744.5h3M1542 744.5h3M1548 744.5h3M1554 744.5h3M1560 744.5h3M1566 744.5h3M1572 744.5h3M1578 744.5h3M1584 744.5h3M1590 744.5h3M1596 744.5h3" stroke="#000" stroke-width="1" fill="none"/>
<path d="M6 766.5h3M12 766.5h3M18 766.5h3M24 766.5h3M30 766.5h3M36 766.5h3M42 766.5h3M48 766.5h3M54 766.5h3M60 766.5h3M66 766.5h3M72 766.5h3M78 766.5h3M84 766.5h3M90 766.5h3M96 766.5h3M102 766.5h3M108 766.5h3M114 766.5h3M120 766.5h3M126 766.5h3M132 766.5h3M138 766.5h3M144 766.5h3M150 766.5h3M156 766.5h3M162 766.5h3M168 766.5h3M174 766.5h3M180 766.5h3M186 766.5h3M192 766.5h3M198 766.5h3M204 766.5h3M210 766.5h3M216 766.5h3M222 766.5h3M228 766.5h3M234 766.5h3M240 766.5h3M246 766.5h3M252 766.5h3M258 766.5h3M264 766.5h3M270 766.5h3M276 766.5h3M282 766.5h3M288 766.5h3M294 766.5h3M300 766.5h3M306 766.5h3M312 766.5h3M318 766.5h3M324 766.5h3M330 766.5h3M336 766.5h3M342 766.5h3M348 766.5h3M354 766.5h3M360 766.5h3M366 766.5h3M372 766.5h3M378 766.5h3M384 766.5h3M390 766.5h3M396 766.5h3M402 766.5h3M408 766.5h3M414 766.5h3M420 766.5h3M426 766.5h3M432 766.5h3M438 766.5h3M444 766.5h3M450 766.5h3M456 766.5h3M462 766.5h3M468 766.5h3M474 766.5h3M480 766.5h3M486 766.5h3M492 766.5h3M498 766.5h3M504 766.5h3M510 766.5h3M516 766.5h3M522 766.5h3M528 766.5h3M534 766.5h3M540 766.5h3M546 766.5h3M552 766.5h3M558 766.5h3M564 766.5h3M570 766.5h3M576 766.5h3M582 766.5h3M588 766.5h3M594 766.5h3M600 766.5h3M606 766.5h3M612 766.5h3M618 766.5h3M624 766.5h3M630 766.5h3M636 766.5h3M642 766.5h3M648 766.5h3M654 766.5h3M660 766.5h3M666 766.5h3M672 766.5h3M678 766.5h3M684 766.5h3M690 766.5h3M696 766.5h3M702 766.5h3M708 766.5h3M714 766.5h3M720 766.5h3M726 766.5h3M732 766.5h3M738 766.5h3M744 766.5h3M750 766.5h3M756 766.5h3M762 766.5h3M768 766.5h3M774 766.5h3M780 766.5h3M786 766.5h3M792 766.5h3M798 766.5h3M804 766.5h3M810 766.5h3M816 766.5h3M822 766.5h3M828 766.5h3M834 766.5h3M840 766.5h3M846 766.5h3M852 766.5h3M858 766.5h3M864 766.5h3M870 766.5h3M876 766.5h3M882 766.5h3M888 766.5h3M894 766.5h3M900 766.5h3M906 766.5h3M912 766.5h3M918 766.5h3M924 766.5h3M930 766.5h3M936 766.5h3M942 766.5h3M948 766.5h3M954 766.5h3M960 766.5h3M966 766.5h3M972 766.5h3M978 766.5h3M984 766.5h3M990 766.5h3M996 766.5h3M1002 766.5h3M1008 766.5h3M1014 766.5h3M1020 766.5h3M1026 766.5h3M1032 766.5h3M1038 766.5h3M1044 766.5h3M1050 766.5h3M1056 766.5h3M1062 766.5h3M1068 766.5h3M1074 766.5h3M1080 766.5h3M1086 766.5h3M1092 766.5h3M1098 766.5h3M1104 766.5h3M1110 766.5h3M1116 766.5h3M1122 766.5h3M1128 766.5h3M1134 766.5h3M1140 766.5h3M1146 766.5h3M1152 766.5h3M1158 766.5h3M1164 766.5h3M1170 766.5h3M1176 766.5h3M1182 766.5h3M1188 766.5h3M1194 766.5h3M1200 766.5h3M1206 766.5h3M1212 766.5h3M1218 766.5h3M1224 766.5h3M1230 766.5h3M1236 766.5h3M1242 766.5h3M1248 766.5h3M1254 766.5h3M1260 766.5h3M1266 766.5h3M1272 766.5h3M1278 766.5h3M1284 766.5h3M1290 766.5h3M1296 766.5h3M1302 766.5h3M1308 766.5h3M1314 766.5h3M1320 766.5h3M1326 766.5h3M1332 766.5h3M1338 766.5h3M1344 766.5h3M1350 766.5h3M1356 766.5h3M1362 766.5h3M1368 766.5h3M1374 766.5h3M1380 766.5h3M1386 766.5h3M1392 766.5h3M1398 766.5h3M1404 766.5h3M1410 766.5h3M1416 766.5h3M1422 766.5h3M1428 766.5h3M1434 766.5h3M1440 766.5h3M1446 766.5h3M1452 766.5h3M1458 766.5h3M1464 766.5h3M1470 766.5h3M1476 766.5h3M1482 766.5h3M1488 766.5h3M1494 766.5h3M1500 766.5h3M1506 766.5h3M1512 766.5h3M1518 766.5h3M1524 766.5h3M1530 766.5h3M1536 766.5h3M1542 766.5h3M1548 766.5h3M1554 766.5h3M1560 766.5h3M1566 766.5h3M1572 766.5h3M1578 766.5h3M1584 766.5h3M1590 766.5h3M1596 766.5h3" stroke="#000" stroke-width="1" fill="none"/>
<path d="M6 792.5h3M12 792.5h3M18 792.5h3M24 792.5h3M30 792.5h3M36 792.5h3M42 792.5h3M48 792.5h3M54 792.5h3M60 792.5h3M66 792.5h3M72 792.5h3M78 792.5h3M84 792.5h3M90 792.5h3M96 792.5h3M102 792.5h3M108 792.5h3M114 792.5h3M120 792.5h3M126 792.5h3M132 792.5h3M138 792.5h3M144 792.5h3M150 792.5h3M156 792.5h3M162 792.5h3M168 792.5h3M174 792.5h3M180 792.5h3M186 792.5h3M192 792.5h3M198 792.5h3M204 792.5h3M210 792.5h3M216 792.5h3M222 792.5h3M228 792.5h3M234 792.5h3M240 792.5h3M246 792.5h3M252 792.5h3M258 792.5h3M264 792.5h3M270 792.5h3M276 792.5h3M282 792.5h3M288 792.5h3M294 792.5h3M300 792.5h3M306 792.5h3M312 792.5h3M318 792.5h3M324 792.5h3M330 792.5h3M336 792.5h3M342 792.5h3M348 792.5h3M354 792.5h3M360 792.5h3M366 792.5h3M372 792.5h3M378 792.5h3M384 792.5h3M390 792.5h3M396 792.5h3M402 792.5h3M408 792.5h3M414 792.5h3M420 792.5h3M426 792.5h3M432 792.5h3M438 792.5h3M444 792.5h3M450 792.5h3M456 792.5h3M462 792.5h3M468 792.5h3M474 792.5h3M480 792.5h3M486 792.5h3M492 792.5h3M498 792.5h3M504 792.5h3M510 792.5h3M516 792.5h3M522 792.5h3M528 792.5h3M534 792.5h3M540 792.5h3M546 792.5h3M552 792.5h3M558 792.5h3M564 792.5h3M570 792.5h3M576 792.5h3M582 792.5h3M588 792.5h3M594 792.5h3M600 792.5h3M606 792.5h3M612 792.5h3M618 792.5h3M624 792.5h3M630 792.5h3M636 792.5h3M642 792.5h3M648 792.5h3M654 792.5h3M660 792.5h3M666 792.5h3M672 792.5h3M678 792.5h3M684 792.5h3M690 792.5h3M696 792.5h3M702 792.5h3M708 792.5h3M714 792.5h3M720 792.5h3M726 792.5h3M732 792.5h3M738 792.5h3M744 792.5h3M750 792.5h3M756 792.5h3M762 792.5h3M768 792.5h3M774 792.5h3M780 792.5h3M786 792.5h3M792 792.5h3M798 792.5h3M804 792.5h3M810 792.5h3M816 792.5h3M822 792.5h3M828 792.5h3M834 792.5h3M840 792.5h3M846 792.5h3M852 792.5h3M858 792.5h3M864 792.5h3M870 792.5h3M876 792.5h3M882 792.5h3M888 792.5h3M894 792.5h3M900 792.5h3M906 792.5h3M912 792.5h3M918 792.5h3M924 792.5h3M930 792.5h3M936 792.5h3M942 792.5h3M948 792.5h3M954 792.5h3M960 792.5h3M966 792.5h3M972 792.5h3M978 792.5h3M984 792.5h3M990 792.5h3M996 792.5h3M1002 792.5h3M1008 792.5h3M1014 792.5h3M1020 792.5h3M1026 792.5h3M1032 792.5h3M1038 792.5h3M1044 792.5h3M1050 792.5h3M1056 792.5h3M1062 792.5h3M1068 792.5h3M1074 792.5h3M1080 792.5h3M1086 792.5h3M1092 792.5h3M1098 792.5h3M1104 792.5h3M1110 792.5h3M1116 792.5h3M1122 792.5h3M1128 792.5h3M1134 792.5h3M1140 792.5h3M1146 792.5h3M1152 792.5h3M1158 792.5h3M1164 792.5h3M1170 792.5h3M1176 792.5h3M1182 792.5h3M1188 792.5h3M1194 792.5h3M1200 792.5h3M1206 792.5h3M1212 792.5h3M1218 792.5h3M1224 792.5h3M1230 792.5h3M1236 792.5h3M1242 792.5h3M1248 792.5h3M1254 792.5h3M1260 792.5h3M1266 792.5h3M1272 792.5h3M1278 792.5h3M1284 792.5h3M1290 792.5h3M1296 792.5h3M1302 792.5h3M1308 792.5h3M1314 792.5h3M1320 792.5h3M1326 792.5h3M1332 792.5h3M1338 792.5h3M1344 792.5h3M1350 792.5h3M1356 792.5h3M1362 792.5h3M1368 792.5h3M1374 792.5h3M1380 792.5h3M1386 792.5h3M1392 792.5h3M1398 792.5h3M1404 792.5h3M1410 792.5h3M1416 792.5h3M1422 792.5h3M1428 792.5h3M1434 792.5h3M1440 792.5h3M1446 792.5h3M1452 792.5h3M1458 792.5h3M1464 792.5h3M1470 792.5h3M1476 792.5h3M1482 792.5h3M1488 792.5h3M1494 792.5h3M1500 792.5h3M1506 792.5h3M1512 792.5h3M1518 792.5h3M1524 792.5h3M1530 792.5h3M1536 792.5h3M1542 792.5h3M1548 792.5h3M1554 792.5h3M1560 792.5h3M1566 792.5h3M1572 792.5h3M1578 792.5h3M1584 792.5h3M1590 792.5h3M1596 792.5h3" stroke="#000" stroke-width="1" fill="none"/>
<path d="M5 766h20v2h-20zM25 765h7v2h-7zM32 764h15v2h-15zM47 765h11v2h-11zM58 766h10v2h-10zM68 767h11v2h-11zM79 768h29v2h-29zM108 767h14v2h-14zM122 766h19v2h-19zM141 765h17v2h-17zM158 766h24v2h-24zM182 765h2v2h-2zM184 764h3v2h-3zM187 763h2v2h-2zM189 762h3v2h-3zM192 761h2v2h-2zM194 760h2v2h-2zM196 759h4v2h-4zM200 758h6v2h-6zM206 757h6v2h-6zM212 756h38v2h-38zM250 755h10v2h-10zM260 754h19v2h-19zM279 753h7v2h-7zM286 752h6v2h-6zM292 751h38v2h-38zM330 750h19v2h-19zM349 751h17v2h-17zM366 750h27v2h-27zM393 751h9v2h-9zM402 752h43v2h-43zM445 753h12v2h-12zM457 754h7v2h-7zM464 755h9v2h-9zM473 756h17v2h-17zM490 757h12v2h-12zM502 758h2v2h-2zM504 759h2v2h-2zM506 760h2v2h-2zM508 761h1v2h-1zM509 762h2v2h-2zM511 763h2v2h-2zM513 764h1v2h-1zM514 765h2v2h-2zM516 766h2v2h-2zM518 767h5v2h-5zM523 768h4v2h-4zM527 769h4v2h-4zM531 770h25v2h-25zM556 771h11v2h-11zM567 772h6v2h-6zM573 773h6v2h-6zM579 774h4v2h-4zM583 775h2v2h-2zM585 776h2v2h-2zM587 777h3v2h-3zM590 778h2v2h-2zM592 779h2v2h-2zM594 780h2v2h-2zM596 781h18v2h-18zM614 780h3v2h-3zM617 779h3v2h-3zM620 778h3v2h-3zM623 777h3v2h-3zM626 776h3v2h-3zM629 775h10v2h-10zM639 774h25v2h-25zM664 775h6v2h-6zM670 776h5v2h-5zM675 777h5v2h-5zM680 778h3v2h-3zM683 779h5v2h-5zM688 780h3v2h-3zM691 781h19v2h-19zM710 780h4v2h-4zM714 779h4v2h-4zM718 778h3v2h-3zM721 777h4v2h-4zM725 776h7v2h-7zM732 775h8v2h-8zM740 774h19v2h-19zM759 775h3v2h-3zM762 776h3v2h-3zM765 777h3v2h-3zM768 778h3v2h-3zM771 779h2v2h-2zM773 778h1v3h-1zM774 776h1v4h-1zM775 775h1v3h-1zM776 773h1v4h-1zM777 772h1v3h-1zM778 770h1v4h-1zM779 769h1v3h-1zM780 767h1v4h-1zM781 766h1v3h-1zM782 764h1v4h-1zM783 763h1v3h-1zM784 761h1v4h-1zM785 760h1v3h-1zM786 758h1v4h-1zM787 757h1v3h-1zM788 755h1v4h-1zM789 755h3v2h-3zM792 754h3v2h-3zM795 753h3v2h-3zM798 752h2v2h-2zM800 751h3v2h-3zM803 750h38v2h-38zM841 751h9v2h-9zM850 752h38v2h-38zM888 753h6v2h-6zM894 754h6v2h-6zM900 755h51v2h-51zM951 756h2v2h-2zM953 757h2v2h-2zM955 758h2v2h-2zM957 759h2v2h-2zM959 760h2v2h-2zM961 761h2v2h-2zM963 762h2v2h-2zM965 763h1v2h-1zM966 762h4v2h-4zM970 761h3v2h-3zM973 760h3v2h-3zM976 759h4v2h-4zM980 758h22v2h-22zM1002 759h30v2h-30zM1032 760h5v2h-5zM1037 761h6v2h-6zM1043 762h20v2h-20zM1063 763h2v2h-2zM1065 764h2v2h-2zM1067 765h2v2h-2zM1069 766h2v2h-2zM1071 767h3v2h-3zM1074 768h2v2h-2zM1076 769h2v2h-2zM1078 770h2v2h-2zM1080 771h3v2h-3zM1083 772h2v2h-2zM1085 773h3v2h-3zM1088 774h2v2h-2zM1090 775h2v2h-2zM1092 776h4v2h-4zM1096 775h6v2h-6zM1102 774h5v2h-5zM1107 773h52v2h-52zM1159 774h2v2h-2zM1161 775h2v2h-2zM1163 776h2v2h-2zM1165 777h2v2h-2zM1167 778h2v2h-2zM1169 779h2v2h-2zM1171 780h2v2h-2zM1173 781h6v2h-6zM1179 782h7v2h-7zM1186 783h6v2h-6zM1192 782h5v2h-5zM1197 781h5v2h-5zM1202 780h5v2h-5zM1207 779h10v2h-10zM1217 778h22v2h-22zM1239 779h10v2h-10zM1249 780h6v2h-6zM1255 779h3v2h-3zM1258 778h3v2h-3zM1261 777h4v2h-4zM1265 776h3v2h-3zM1268 775h6v2h-6zM1274 776h10v2h-10zM1284 777h10v2h-10zM1294 776h25v2h-25z" fill="#1e90ff"/>
<g shape-rendering="geometricPrecision"><line x1="1309.7" y1="435.6" x2="1408.5" y2="528.2" stroke="#4e9a2f" stroke-width="3.05"/><polygon points="1420.4,539.5 1401.7,533.4 1413.7,520.7" fill="#4e9a2f"/></g>
</svg>
<div class="t h" style="left:20px;top:33px;">SP500-,H4  3934.550 3934.550 3934.550 3934.550</div>
<div class="t m" style="left:8px;top:633px;">MACD(12,26,9) -27.8866 -24.5722</div>
<div class="t m" style="left:8px;top:733px;">RSI(14) 35.2367</div>
<div class="t p" style="left:1608px;top:58px;">4106.405</div>
<div class="t p" style="left:1608px;top:91px;">4095.020</div>
<div class="t p" style="left:1608px;top:124px;">4083.290</div>
<div class="t p" style="left:1608px;top:157px;">4071.905</div>
<div class="t p" style="left:1608px;top:190px;">4060.175</div>
<div class="t p" style="left:1608px;top:223px;">4048.790</div>
<div class="t p" style="left:1608px;top:256px;">4037.060</div>
<div class="t p" style="left:1608px;top:289px;">4025.675</div>
<div class="t p" style="left:1608px;top:322px;">4013.945</div>
<div class="t p" style="left:1608px;top:355px;">4002.560</div>
<div class="t p" style="left:1608px;top:388px;">3991.175</div>
<div class="t p" style="left:1608px;top:421px;">3979.445</div>
<div class="t p" style="left:1608px;top:487px;clip-path:inset(1px 0 0 0);">3956.330</div>
<div class="t p" style="left:1608px;top:520px;">3944.945</div>
<div class="t p" style="left:1608px;top:553px;">3933.215</div>
<div class="t p" style="left:1606px;top:631px;">25.6657</div>
<div class="t p" style="left:1606px;top:669px;">0.00</div>
<div class="t p" style="left:1606px;top:715px;">-30.4367</div>
<div class="t p" style="left:1606px;top:731px;">100</div>
<div class="t p" style="left:1605px;top:740px;">80</div>
<div class="t p" style="left:1605px;top:762px;">50</div>
<div class="t p" style="left:1605px;top:788px;">15</div>
<div class="t p" style="left:1606px;top:794px;">0</div>
<div class="t d" style="left:4px;top:809px;">18 Nov 2022</div>
<div class="t d" style="left:68px;top:809px;">21 Nov 04:00</div>
<div class="t d" style="left:132px;top:809px;">21 Nov 20:00</div>
<div class="t d" style="left:196px;top:809px;">22 Nov 12:00</div>
<div class="t d" style="left:260px;top:809px;">23 Nov 04:00</div>
<div class="t d" style="left:324px;top:809px;">23 Nov 20:00</div>
<div class="t d" style="left:388px;top:809px;">24 Nov 12:00</div>
<div class="t d" style="left:452px;top:809px;">25 Nov 04:00</div>
<div class="t d" style="left:516px;top:809px;">27 Nov 23:00</div>
<div class="t d" style="left:580px;top:809px;">28 Nov 12:00</div>
<div class="t d" style="left:644px;top:809px;">29 Nov 04:00</div>
<div class="t d" style="left:708px;top:809px;">29 Nov 20:00</div>
<div class="t d" style="left:772px;top:809px;">30 Nov 12:00</div>
<div class="t d2" style="left:836px;top:809px;">1 Dec 04:00</div>
<div class="t d2" style="left:900px;top:809px;">1 Dec 20:00</div>
<div class="t d2" style="left:964px;top:809px;">2 Dec 12:00</div>
<div class="t d2" style="left:1028px;top:809px;">5 Dec 00:00</div>
<div class="t d2" style="left:1092px;top:809px;">5 Dec 16:00</div>
<div class="t d2" style="left:1156px;top:809px;">6 Dec 08:00</div>
<div class="t d2" style="left:1220px;top:809px;">7 Dec 00:00</div>
<div class="t d2" style="left:1284px;top:809px;">7 Dec 16:00</div>
<div class="pb" style="top:451px;background:#ff0000;">3968.396</div>
<div class="pb" style="top:489px;background:#ff0000;">3955.133</div>
<div class="pb" style="top:528px;background:#ff8a00;">3941.520</div>
<div class="pb" style="top:549px;background:#000;">3934.550</div>
<div class="pb" style="top:587px;background:#0000ff;">3920.928</div>
<div class="pb" style="top:619px;background:#0000ff;">3909.759</div>
<svg id="tbs" width="1655" height="25" viewBox="0 0 1655 25" shape-rendering="crispEdges" style="position:absolute;left:0;top:0">
<defs><pattern id="chk" width="2" height="2" patternUnits="userSpaceOnUse"><rect width="2" height="2" fill="#fff"/><rect width="1" height="1" fill="#f0f0f0"/><rect x="1" y="1" width="1" height="1" fill="#f0f0f0"/></pattern><linearGradient id="gold" x1="0" y1="0" x2="1" y2="1"><stop offset="0" stop-color="#f8dc30"/><stop offset=".55" stop-color="#e8b818"/><stop offset="1" stop-color="#c07810"/></linearGradient><linearGradient id="cloud" x1="0" y1="0" x2="0" y2="1"><stop offset="0" stop-color="#fff"/><stop offset="1" stop-color="#b4c4de"/></linearGradient><linearGradient id="lens" x1="0" y1="0" x2="0" y2="1"><stop offset="0" stop-color="#b8e0f8"/><stop offset="1" stop-color="#eef8ff"/></linearGradient><linearGradient id="badge" x1="0" y1="0" x2="0" y2="1"><stop offset="0" stop-color="#ea5a3c"/><stop offset="1" stop-color="#dc2810"/></linearGradient><linearGradient id="cndl" x1="0" y1="0" x2="0" y2="1"><stop offset="0" stop-color="#90ffa0"/><stop offset="1" stop-color="#30e050"/></linearGradient><radialGradient id="clk" cx=".5" cy=".5" r=".5"><stop offset="0" stop-color="#fff"/><stop offset=".8" stop-color="#e8f0f8"/><stop offset="1" stop-color="#c0d0e0"/></radialGradient><linearGradient id="grn" x1="0" y1="0" x2="0" y2="1"><stop offset="0" stop-color="#58e058"/><stop offset="1" stop-color="#08a808"/></linearGradient><linearGradient id="hat" x1="0" y1="0" x2="0" y2="1"><stop offset="0" stop-color="#7cc8f0"/><stop offset="1" stop-color="#3898d0"/></linearGradient><linearGradient id="ylw" x1="0" y1="0" x2="1" y2="1"><stop offset="0" stop-color="#f0c020"/><stop offset="1" stop-color="#fff080"/></linearGradient><radialGradient id="grn2" cx=".45" cy=".4" r=".6"><stop offset="0" stop-color="#7cff8c"/><stop offset="1" stop-color="#00e41c"/></radialGradient><linearGradient id="ring" x1="0" y1="0" x2=".6" y2="1"><stop offset="0" stop-color="#2a98f4"/><stop offset=".5" stop-color="#1468d8"/><stop offset="1" stop-color="#0a48a8"/></linearGradient><linearGradient id="sweep" x1="1" y1="0" x2=".2" y2="1"><stop offset="0" stop-color="#58b060" stop-opacity=".05"/><stop offset=".45" stop-color="#58b060" stop-opacity=".3"/><stop offset="1" stop-color="#189828" stop-opacity=".85"/></linearGradient></defs>
<rect x="204" y="0" width="1" height="25" fill="#a0a0a0"/>
<rect x="205" y="0" width="1" height="25" fill="#fff"/>
<rect x="572" y="0" width="1" height="25" fill="#a0a0a0"/>
<rect x="573" y="0" width="1" height="25" fill="#fff"/>
<rect x="878" y="0" width="1" height="25" fill="#a0a0a0"/>
<rect x="879" y="0" width="1" height="25" fill="#fff"/>
<rect x="1139" y="0" width="1" height="25" fill="#a0a0a0"/>
<rect x="1140" y="0" width="1" height="25" fill="#fff"/>
<rect x="208" y="3" width="3" height="1" fill="#a0a0a0"/>
<rect x="208" y="5" width="3" height="1" fill="#a0a0a0"/>
<rect x="208" y="7" width="3" height="1" fill="#a0a0a0"/>
<rect x="208" y="9" width="3" height="1" fill="#a0a0a0"/>
<rect x="208" y="11" width="3" height="1" fill="#a0a0a0"/>
<rect x="208" y="13" width="3" height="1" fill="#a0a0a0"/>
<rect x="208" y="15" width="3" height="1" fill="#a0a0a0"/>
<rect x="208" y="17" width="3" height="1" fill="#a0a0a0"/>
<rect x="208" y="19" width="3" height="1" fill="#a0a0a0"/>
<rect x="208" y="21" width="3" height="1" fill="#a0a0a0"/>
<rect x="576" y="3" width="3" height="1" fill="#a0a0a0"/>
<rect x="576" y="5" width="3" height="1" fill="#a0a0a0"/>
<rect x="576" y="7" width="3" height="1" fill="#a0a0a0"/>
<rect x="576" y="9" width="3" height="1" fill="#a0a0a0"/>
<rect x="576" y="11" width="3" height="1" fill="#a0a0a0"/>
<rect x="576" y="13" width="3" height="1" fill="#a0a0a0"/>
<rect x="576" y="15" width="3" height="1" fill="#a0a0a0"/>
<rect x="576" y="17" width="3" height="1" fill="#a0a0a0"/>
<rect x="576" y="19" width="3" height="1" fill="#a0a0a0"/>
<rect x="576" y="21" width="3" height="1" fill="#a0a0a0"/>
<rect x="882" y="3" width="3" height="1" fill="#a0a0a0"/>
<rect x="882" y="5" width="3" height="1" fill="#a0a0a0"/>
<rect x="882" y="7" width="3" height="1" fill="#a0a0a0"/>
<rect x="882" y="9" width="3" height="1" fill="#a0a0a0"/>
<rect x="882" y="11" width="3" height="1" fill="#a0a0a0"/>
<rect x="882" y="13" width="3" height="1" fill="#a0a0a0"/>
<rect x="882" y="15" width="3" height="1" fill="#a0a0a0"/>
<rect x="882" y="17" width="3" height="1" fill="#a0a0a0"/>
<rect x="882" y="19" width="3" height="1" fill="#a0a0a0"/>
<rect x="882" y="21" width="3" height="1" fill="#a0a0a0"/>
<rect x="299" y="2" width="1" height="21" fill="#a0a0a0"/>
<rect x="300" y="2" width="1" height="21" fill="#f8f8f8"/>
<rect x="389" y="2" width="1" height="21" fill="#a0a0a0"/>
<rect x="390" y="2" width="1" height="21" fill="#f8f8f8"/>
<rect x="451" y="2" width="1" height="21" fill="#a0a0a0"/>
<rect x="452" y="2" width="1" height="21" fill="#f8f8f8"/>
<rect x="639" y="2" width="1" height="21" fill="#a0a0a0"/>
<rect x="640" y="2" width="1" height="21" fill="#f8f8f8"/>
<rect x="243" y="2" width="24" height="21" fill="url(#chk)"/>
<rect x="242" y="1" width="25" height="1" fill="#a0a0a0"/>
<rect x="242" y="1" width="1" height="22" fill="#a0a0a0"/>
<rect x="267" y="1" width="1" height="23" fill="#fff"/>
<rect x="242" y="23" width="26" height="1" fill="#fff"/>
<rect x="395" y="2" width="24" height="21" fill="url(#chk)"/>
<rect x="394" y="1" width="25" height="1" fill="#a0a0a0"/>
<rect x="394" y="1" width="1" height="22" fill="#a0a0a0"/>
<rect x="419" y="1" width="1" height="23" fill="#fff"/>
<rect x="394" y="23" width="26" height="1" fill="#fff"/>
<rect x="423" y="2" width="24" height="21" fill="url(#chk)"/>
<rect x="422" y="1" width="25" height="1" fill="#a0a0a0"/>
<rect x="422" y="1" width="1" height="22" fill="#a0a0a0"/>
<rect x="447" y="1" width="1" height="23" fill="#fff"/>
<rect x="422" y="23" width="26" height="1" fill="#fff"/>
<rect x="583" y="2" width="24" height="21" fill="url(#chk)"/>
<rect x="582" y="1" width="25" height="1" fill="#a0a0a0"/>
<rect x="582" y="1" width="1" height="22" fill="#a0a0a0"/>
<rect x="607" y="1" width="1" height="23" fill="#fff"/>
<rect x="582" y="23" width="26" height="1" fill="#fff"/>
<rect x="1029" y="2" width="24" height="21" fill="url(#chk)"/>
<rect x="1028" y="1" width="25" height="1" fill="#a0a0a0"/>
<rect x="1028" y="1" width="1" height="22" fill="#a0a0a0"/>
<rect x="1053" y="1" width="1" height="23" fill="#fff"/>
<rect x="1028" y="23" width="26" height="1" fill="#fff"/>
<rect x="222" y="7" width="1" height="14" fill="#4d4d4d"/>
<rect x="220" y="18" width="14" height="1" fill="#4d4d4d"/>
<rect x="221" y="8" width="3" height="1" fill="#4d4d4d"/>
<rect x="232" y="17" width="1" height="3" fill="#4d4d4d"/>
<path d="M223.5 9v9M221 19.5h12" stroke="#000" stroke-opacity=".10" stroke-width="1" fill="none"/>
<rect x="250" y="7" width="1" height="14" fill="#4d4d4d"/>
<rect x="248" y="18" width="14" height="1" fill="#4d4d4d"/>
<rect x="249" y="8" width="3" height="1" fill="#4d4d4d"/>
<rect x="260" y="17" width="1" height="3" fill="#4d4d4d"/>
<path d="M251.5 9v9M249 19.5h12" stroke="#000" stroke-opacity=".10" stroke-width="1" fill="none"/>
<rect x="278" y="7" width="1" height="14" fill="#4d4d4d"/>
<rect x="276" y="18" width="14" height="1" fill="#4d4d4d"/>
<rect x="277" y="8" width="3" height="1" fill="#4d4d4d"/>
<rect x="288" y="17" width="1" height="3" fill="#4d4d4d"/>
<path d="M279.5 9v9M277 19.5h12" stroke="#000" stroke-opacity=".10" stroke-width="1" fill="none"/>
<rect x="402" y="7" width="1" height="14" fill="#4d4d4d"/>
<rect x="400" y="18" width="14" height="1" fill="#4d4d4d"/>
<rect x="401" y="8" width="3" height="1" fill="#4d4d4d"/>
<rect x="412" y="17" width="1" height="3" fill="#4d4d4d"/>
<path d="M403.5 9v9M401 19.5h12" stroke="#000" stroke-opacity=".10" stroke-width="1" fill="none"/>
<rect x="430" y="7" width="1" height="14" fill="#4d4d4d"/>
<rect x="428" y="18" width="14" height="1" fill="#4d4d4d"/>
<rect x="429" y="8" width="3" height="1" fill="#4d4d4d"/>
<rect x="440" y="17" width="1" height="3" fill="#4d4d4d"/>
<path d="M431.5 9v9M429 19.5h12" stroke="#000" stroke-opacity=".10" stroke-width="1" fill="none"/>
<rect x="228" y="8" width="1" height="9" fill="#0a8a0a"/>
<rect x="229" y="9" width="2" height="1" fill="#0a8a0a"/>
<rect x="226" y="15" width="2" height="1" fill="#0a8a0a"/>
<rect x="256" y="5" width="1" height="12" fill="#008a00"/>
<rect x="254" y="7" width="5" height="8" fill="#008a00"/>
<rect x="255" y="8" width="3" height="6" fill="url(#cndl)"/>
<path d="M277.3 15.8C280 14.5 281 10.6 283 10.6S286 13.4 288.8 14" stroke="#1c9c1c" stroke-width="1.3" fill="none" shape-rendering="geometricPrecision"/>
<path d="M407.5 9.5v6.2l3.9-3.1z" fill="#7be07b" stroke="#0a9a0a" stroke-width="1" shape-rendering="geometricPrecision"/>
<rect x="436" y="7" width="1" height="10" fill="#1878b8"/>
<path d="M437.5 12.5l2.8-2.6v2h2v1.2h-2v2z" fill="#d84800" shape-rendering="geometricPrecision"/>
<rect x="483" y="12" width="5" height="1" fill="#000"/>
<rect x="484" y="13" width="3" height="1" fill="#000"/>
<rect x="485" y="14" width="1" height="1" fill="#000"/>
<rect x="522" y="12" width="5" height="1" fill="#000"/>
<rect x="523" y="13" width="3" height="1" fill="#000"/>
<rect x="524" y="14" width="1" height="1" fill="#000"/>
<rect x="561" y="12" width="5" height="1" fill="#000"/>
<rect x="562" y="13" width="3" height="1" fill="#000"/>
<rect x="563" y="14" width="1" height="1" fill="#000"/>
<rect x="867" y="12" width="5" height="1" fill="#000"/>
<rect x="868" y="13" width="3" height="1" fill="#000"/>
<rect x="869" y="14" width="1" height="1" fill="#000"/>
<g shape-rendering="geometricPrecision">
<path d="M53 19.9L60.7 13.7L61.1 15.3L53.2 20.9Z" fill="#e2c878" stroke="#8a5a08" stroke-width=".9" stroke-linejoin="round"/>
<path d="M50.3 6.3L60.6 13.5L53 19.9L45.2 14.8Q49 11.6 50.3 6.3Z" fill="url(#gold)" stroke="#a86808" stroke-width="1.1" stroke-linejoin="round"/>
<path d="M46.4 15.1L52.9 19.1" fill="none" stroke="#fbeaa8" stroke-width="1.1"/>
<path d="M75.3 5.3h9l1.6 1.2v8h-10.6z" fill="#1e9cf4"/>
<path d="M75.6 5.6l2.7 1.9v7" stroke="#fff" stroke-width=".9" fill="none"/>
<path d="M80 10.3h4.7" stroke="#e8f4ff" stroke-width="1.1"/>
<path d="M75.6 20.3a2.6 2.6 0 0 1 -0.4 -5.1a3 3 0 0 1 4.6 -1.2a3.2 3.2 0 0 1 5.2 1.3a2.6 2.6 0 0 1 1.3 5z" fill="url(#cloud)" stroke="#4a68a8" stroke-width="1"/>
<circle cx="109" cy="13" r="7.6" fill="#f6f6fa" opacity=".8"/>
<path d="M109 5.4A7.6 7.6 0 0 1 109 20.6Z" fill="url(#sweep)"/>
<path d="M109 5.6a7.4 7.4 0 0 0 0 14.8" stroke="#3a6ad8" stroke-opacity="0.75" stroke-width="1.1" fill="none"/>
<path d="M109 5.6a7.4 7.4 0 0 1 0 14.8" stroke="#3a8a6a" stroke-opacity="0.5" stroke-width="1.1" fill="none"/>
<path d="M109 8.0a5.0 5.0 0 0 0 0 10.0" stroke="#3a6ad8" stroke-opacity="0.6" stroke-width="1.1" fill="none"/>
<path d="M109 8.0a5.0 5.0 0 0 1 0 10.0" stroke="#3a8a6a" stroke-opacity="0.35" stroke-width="1.1" fill="none"/>
<path d="M109 10.1a2.9 2.9 0 0 0 0 5.8" stroke="#3a6ad8" stroke-opacity="0.5" stroke-width="1.1" fill="none"/>
<path d="M109 10.1a2.9 2.9 0 0 1 0 5.8" stroke="#3a8a6a" stroke-opacity="0.25" stroke-width="1.1" fill="none"/>
<circle cx="108.8" cy="12.6" r="1.9" fill="#2858d0"/>
<path d="M109.6 13v7.7" stroke="#18a818" stroke-width="1.3"/>
<path d="M128.8 12.2L143.6 11.4L143.4 14.5L136.6 20.6L135 20.2Z" fill="url(#ylw)" stroke="#c89010" stroke-width=".9" stroke-linejoin="round"/>
<ellipse cx="136" cy="9.6" rx="7.7" ry="2.6" fill="url(#hat)" stroke="#1878a8" stroke-width="1"/>
<ellipse cx="135.8" cy="7.7" rx="3.3" ry="2.7" fill="url(#hat)" stroke="#1878a8" stroke-width=".8"/><path d="M132.8 8.6q3 1.6 6 0" stroke="#80c8f0" stroke-width="1.2" fill="none"/>
<circle cx="140.5" cy="16.6" r="4.1" fill="#e02810" stroke="#b81808" stroke-width=".6"/>
<rect x="139" y="15.1" width="3" height="3" fill="#fff"/>
<path d="M317.3 14.7L323 19.6" stroke="#a87008" stroke-width="3.4"/>
<path d="M317.3 14.7L322.6 19.25" stroke="#f4d848" stroke-width="1.7"/>
<circle cx="314" cy="11" r="5.3" fill="url(#lens)" stroke="#2f70c4" stroke-width="1.05"/>
<path d="M310.8 11h6.4" stroke="#4585ae" stroke-width="1.8"/>
<path d="M314 7.8v6.4" stroke="#4585ae" stroke-width="1.8"/>
<path d="M345.3 14.7L351 19.6" stroke="#a87008" stroke-width="3.4"/>
<path d="M345.3 14.7L350.6 19.25" stroke="#f4d848" stroke-width="1.7"/>
<circle cx="342" cy="11" r="5.3" fill="url(#lens)" stroke="#2f70c4" stroke-width="1.05"/>
<path d="M338.8 11h6.4" stroke="#4585ae" stroke-width="1.8"/>
</g>
<rect x="364" y="5" width="8" height="8" fill="#3aa020"/>
<rect x="364" y="5" width="8" height="2" fill="#2c8a14"/>
<rect x="365" y="6" width="1" height="1" fill="#d0e8ff"/>
<rect x="365" y="8" width="6" height="4" fill="#fff"/>
<rect x="366" y="9" width="4" height="1" fill="#a4dc94"/>
<rect x="367" y="11" width="2" height="1" fill="#3aa020"/>
<rect x="372" y="5" width="8" height="8" fill="#2c5ed8"/>
<rect x="372" y="5" width="8" height="2" fill="#1c48c0"/>
<rect x="373" y="6" width="1" height="1" fill="#d0e8ff"/>
<rect x="373" y="8" width="6" height="4" fill="#fff"/>
<rect x="374" y="9" width="4" height="1" fill="#98acf0"/>
<rect x="375" y="11" width="2" height="1" fill="#2c5ed8"/>
<rect x="364" y="13" width="8" height="8" fill="#2c5ed8"/>
<rect x="364" y="13" width="8" height="2" fill="#1c48c0"/>
<rect x="365" y="14" width="1" height="1" fill="#d0e8ff"/>
<rect x="365" y="16" width="6" height="4" fill="#fff"/>
<rect x="366" y="17" width="4" height="1" fill="#98acf0"/>
<rect x="367" y="19" width="2" height="1" fill="#2c5ed8"/>
<rect x="372" y="13" width="8" height="8" fill="#3aa020"/>
<rect x="372" y="13" width="8" height="2" fill="#2c8a14"/>
<rect x="373" y="14" width="1" height="1" fill="#d0e8ff"/>
<rect x="373" y="16" width="6" height="4" fill="#fff"/>
<rect x="374" y="17" width="4" height="1" fill="#a4dc94"/>
<rect x="375" y="19" width="2" height="1" fill="#3aa020"/>
<g shape-rendering="geometricPrecision">
<path d="M461.5 5.5h6.5l3 3v9.5h-9.5z" fill="#fcfcfc" stroke="#858585" stroke-width="1"/>
<path d="M468 5.5v3h3" fill="#e8e8e8" stroke="#9a9a9a" stroke-width=".8"/>
<path d="M464.5 9.5v7M463.5 10h2.2M463.5 15h1.6" stroke="#555" stroke-width=".9" fill="none"/>
<path d="M469 11h4v4h4v4h-4v4h-4v-4h-4v-4h4z" fill="#069006"/>
<path d="M470 12h2v4h4v2h-4v4h-2v-4h-4v-2h4z" fill="url(#grn2)"/>
<circle cx="507" cy="13" r="7.6" fill="url(#ring)"/>
<circle cx="507" cy="12.8" r="5" fill="url(#clk)"/>
<path d="M506.4 9.6l.5 3.4l2.6 .3" stroke="#202020" stroke-width="1.4" fill="none" stroke-linejoin="round"/>
<path d="M507 8.4v.7M503.2 10.6l.6 .4M510.8 10.6l-.6 .4M502.8 13h.7M503.4 15.4l.6-.4M510.6 15.4l-.6-.4M505 17l.3-.6M509 17l-.3-.6" stroke="#606878" stroke-width=".7"/>
<path d="M506 16.4h2" stroke="#4a90f0" stroke-width="1"/>
<rect x="538.5" y="6.5" width="15" height="13" fill="#fff" stroke="#3a70c0" stroke-width="1"/>
<rect x="539" y="7" width="14" height="2" fill="#5a98e8"/>
<path d="M539.6 7.6h5" stroke="#cfe4ff" stroke-width=".8"/>
<path d="M539 14.5h14" stroke="#3a70c0" stroke-width="1"/>
<path d="M540.2 12.5h2.2l1.6-1.1h1l1.2-1h1l1 1.1h1.4l1.6-1.1h.8" stroke="#a82008" stroke-width="1.3" fill="none"/>
<path d="M541 17.4h1.4l1.4-.9h1l1.2 .9h.8l2.2-2l.8 .2l1.7 1.8" stroke="#0a8818" stroke-width="1.2" fill="none"/>
<path d="M590 6v11.6l2.7-2.6l2.2 5l1.9-.9l-2.2-4.8h3.8z" fill="#4d4d4d"/>
<path d="M706.8 19.8L719.3 7.7" stroke="#4d4d4d" stroke-width="1.1"/>
<path d="M732.6 14.6L740.9 6.9M737.8 19.8L747 11.3" stroke="#6a6a6a" stroke-width=".9" fill="none"/>
<path d="M735.4 12.6c-.8 2.5 .6 4.6 -.4 7.4M738.6 11.2c-.8 2 .6 3.6 -.3 5.6M741.7 9c-.8 2.2 .6 4 -.3 6.3M744.6 5.2c-.6 2.6 .6 4.6 -.2 7.4" stroke="#3c3c3c" stroke-width="1.3" fill="none"/>
<path d="M846.4 10.4l3.5-3.4l3.5 3.4l-3.5 1.6z" fill="#4d4d4d"/>
<path d="M853.2 16.2l3.5 3.6l3.5-3.6l-3.5-1.4z" fill="#4d4d4d"/>
<path d="M848.6 14.4l1.8 2l4.6-5.2" stroke="#4d4d4d" stroke-width="1.1" fill="none"/>
<path d="M1606.2 13.6L1602.6 17.3" stroke="#2a58c8" stroke-width="2.6" stroke-linecap="round"/>
<circle cx="1609.5" cy="10.45" r="3.85" fill="#f6f7ff" stroke="#2a62d8" stroke-width="1.15"/>
<path d="M1629.6 21.3l.4-2.2a5 4.6 0 1 1 2.6 .7z" fill="#e6e6ee" stroke="#a8a8a8" stroke-width="1"/>
<circle cx="1640.5" cy="10.4" r="8.2" fill="url(#badge)"/>
</g>
<rect x="622" y="6" width="1" height="6" fill="#4d4d4d"/>
<rect x="622" y="15" width="1" height="6" fill="#4d4d4d"/>
<rect x="615" y="13" width="6" height="1" fill="#4d4d4d"/>
<rect x="624" y="13" width="6" height="1" fill="#4d4d4d"/>
<rect x="622" y="13" width="1" height="1" fill="#b0b0b0"/>
<rect x="656" y="7" width="1" height="13" fill="#4d4d4d"/>
<rect x="679" y="13" width="12" height="1" fill="#4d4d4d"/>
<rect x="762" y="6" width="1" height="1" fill="#4d4d4d"/>
<rect x="764" y="6" width="1" height="1" fill="#4d4d4d"/>
<rect x="766" y="6" width="1" height="1" fill="#4d4d4d"/>
<rect x="768" y="6" width="1" height="1" fill="#4d4d4d"/>
<rect x="770" y="6" width="1" height="1" fill="#4d4d4d"/>
<rect x="772" y="6" width="1" height="1" fill="#4d4d4d"/>
<rect x="774" y="6" width="1" height="1" fill="#4d4d4d"/>
<rect x="762" y="9" width="1" height="1" fill="#4d4d4d"/>
<rect x="764" y="9" width="1" height="1" fill="#4d4d4d"/>
<rect x="766" y="9" width="1" height="1" fill="#4d4d4d"/>
<rect x="768" y="9" width="1" height="1" fill="#4d4d4d"/>
<rect x="770" y="9" width="1" height="1" fill="#4d4d4d"/>
<rect x="772" y="9" width="1" height="1" fill="#4d4d4d"/>
<rect x="774" y="9" width="1" height="1" fill="#4d4d4d"/>
<rect x="762" y="13" width="1" height="1" fill="#4d4d4d"/>
<rect x="764" y="13" width="1" height="1" fill="#4d4d4d"/>
<rect x="766" y="13" width="1" height="1" fill="#4d4d4d"/>
<rect x="768" y="13" width="1" height="1" fill="#4d4d4d"/>
<rect x="770" y="13" width="1" height="1" fill="#4d4d4d"/>
<rect x="772" y="13" width="1" height="1" fill="#4d4d4d"/>
<rect x="774" y="13" width="1" height="1" fill="#4d4d4d"/>
<rect x="762" y="17" width="1" height="1" fill="#4d4d4d"/>
<rect x="764" y="17" width="1" height="1" fill="#4d4d4d"/>
<rect x="766" y="17" width="1" height="1" fill="#4d4d4d"/>
<rect x="768" y="17" width="1" height="1" fill="#4d4d4d"/>
<rect x="822" y="7" width="1" height="1" fill="#4d4d4d"/>
<rect x="824" y="7" width="1" height="1" fill="#4d4d4d"/>
<rect x="826" y="7" width="1" height="1" fill="#4d4d4d"/>
<rect x="828" y="7" width="1" height="1" fill="#4d4d4d"/>
<rect x="830" y="7" width="1" height="1" fill="#4d4d4d"/>
<rect x="819" y="19" width="1" height="1" fill="#4d4d4d"/>
<rect x="821" y="19" width="1" height="1" fill="#4d4d4d"/>
<rect x="823" y="19" width="1" height="1" fill="#4d4d4d"/>
<rect x="825" y="19" width="1" height="1" fill="#4d4d4d"/>
<rect x="827" y="19" width="1" height="1" fill="#4d4d4d"/>
<rect x="829" y="19" width="1" height="1" fill="#4d4d4d"/>
<rect x="819" y="9" width="1" height="1" fill="#4d4d4d"/>
<rect x="830" y="9" width="1" height="1" fill="#4d4d4d"/>
<rect x="819" y="11" width="1" height="1" fill="#4d4d4d"/>
<rect x="830" y="11" width="1" height="1" fill="#4d4d4d"/>
<rect x="819" y="13" width="1" height="1" fill="#4d4d4d"/>
<rect x="830" y="13" width="1" height="1" fill="#4d4d4d"/>
<rect x="819" y="15" width="1" height="1" fill="#4d4d4d"/>
<rect x="830" y="15" width="1" height="1" fill="#4d4d4d"/>
<rect x="819" y="17" width="1" height="1" fill="#4d4d4d"/>
<rect x="830" y="17" width="1" height="1" fill="#4d4d4d"/>
<rect x="818" y="6" width="2" height="1" fill="#4d4d4d"/>
<rect x="818" y="7" width="3" height="1" fill="#4d4d4d"/>
</svg>
<div class="cn" style="left:-3px;top:5px">新订单</div>
<div class="cn" style="left:149px;top:5px">自动交易</div>
<div class="tf" style="left:893.5px">M1</div>
<div class="tf" style="left:921.8px">M5</div>
<div class="tf" style="left:947.4px">M15</div>
<div class="tf" style="left:975.4px">M30</div>
<div class="tf" style="left:1006.6px">H1</div>
<div class="tf" style="left:1033.5px">H4</div>
<div class="tf" style="left:1062.8px">D1</div>
<div class="tf" style="left:1090px">W1</div>
<div class="tf" style="left:1116.7px">MN</div>
<div class="ic" style="left:743.8px;top:16px">E</div>
<div class="ic" style="left:771.6px;top:16px">F</div>
<div class="ia" style="left:792.5px;top:8px">A</div>
<div class="it" style="left:821px;top:9px">T</div>
<div class="bd" style="left:1636.2px;top:3.5px">1</div>
</body></html>
